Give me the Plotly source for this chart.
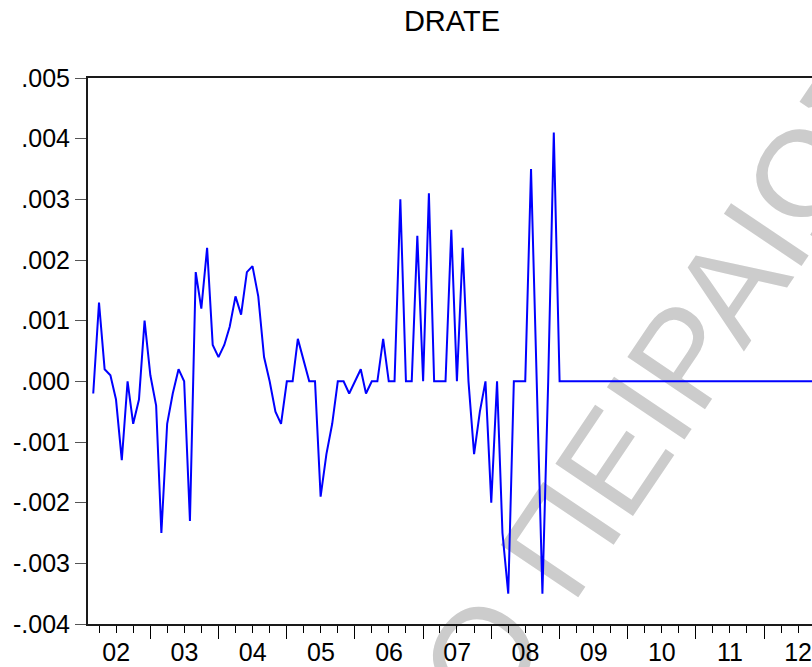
import pandas as pd
import plotly.graph_objects as go

# Monthly first difference of the rate, March 2002 onward
start_month = "2002-03-01"
drate_2002_2005 = [
    -0.0002, 0.0013, 0.0002, 0.0001, -0.0003, -0.0013, 0.0000, -0.0007, -0.0003, 0.0010,
    0.0001, -0.0004, -0.0025, -0.0007, -0.0002, 0.0002, 0.0000, -0.0023, 0.0018, 0.0012,
    0.0022, 0.0006, 0.0004, 0.0006, 0.0009, 0.0014, 0.0011, 0.0018, 0.0019, 0.0014,
    0.0004, 0.0000, -0.0005, -0.0007,
]
drate_2005_2008 = [
    0.0000, 0.0000, 0.0007, 0.00035, 0.0000, 0.0000, -0.0019, -0.0012, -0.0007, 0.0000,
    0.0000, -0.0002, 0.0000, 0.0002, -0.0002, 0.0000, 0.0000, 0.0007, 0.0000, 0.0000,
    0.0030, 0.0000, 0.0000, 0.0024, 0.0000, 0.0031, 0.0000, 0.0000, 0.0000, 0.0025,
    0.0000, 0.0022, 0.0000, -0.0012, -0.0005, 0.0000, -0.0020, 0.0000, -0.0025, -0.0035,
    0.0000, 0.0000, 0.0000, 0.0035, 0.0000, -0.0035, 0.0000, 0.0041,
]
# From January 2009 the series stays flat at zero
drate_2009_2012 = [0.0000] * 48

drate = drate_2002_2005 + drate_2005_2008 + drate_2009_2012
months = pd.date_range(start_month, periods=len(drate), freq="MS")

y_ticks = [-0.004, -0.003, -0.002, -0.001, 0.0, 0.001, 0.002, 0.003, 0.004, 0.005]
y_tick_text = ["-.004", "-.003", "-.002", "-.001", ".000", ".001", ".002", ".003", ".004", ".005"]

FONT = "Liberation Sans, Arial, sans-serif"
AXIS_COLOR = "#1a1a1a"

fig = go.Figure()
fig.add_trace(go.Scatter(
    x=months, y=drate, mode="lines",
    line=dict(color="#0000ff", width=2),
    showlegend=False, hoverinfo="skip",
))

# Faint diagonal watermark behind the series
fig.add_shape(
    type="rect", xref="paper", yref="paper",
    x0=0.40, x1=0.45, y0=-0.275, y1=-0.225,
    line=dict(width=0), fillcolor="rgba(0,0,0,0)", layer="below",
    label=dict(
        text="ΠΑΝΕΠΙΣΤΗΜΙΟ ΠΕΙΡΑΙΩΣ",
        textangle=-56, textposition="middle center",
        font=dict(family=FONT, size=136, color="#cccccc"),
    ),
)

fig.update_layout(
    width=812, height=667,
    margin=dict(l=88, r=0, t=78, b=43),
    paper_bgcolor="white", plot_bgcolor="white",
    font=dict(family=FONT, color="black", size=25),
    title=dict(
        text="DRATE", font=dict(size=29, color="black"),
        x=452 / 812, xref="container", xanchor="center",
        y=1 - 21 / 667, yref="container", yanchor="middle",
    ),
    xaxis=dict(
        type="date", automargin=False,
        range=["2002-02-01", "2012-09-14"],
        showline=True, mirror=True, linecolor=AXIS_COLOR, linewidth=2,
        showgrid=False, zeroline=False,
        ticks="outside", ticklen=13, tickwidth=1, tickcolor="black",
        tick0="2002-01-01", dtick="M12", tickformat="%y",
        ticklabelmode="period", ticklabelstandoff=-8,
        tickfont=dict(size=25),
        minor=dict(ticks="outside", dtick="M3", ticklen=7, tickwidth=1,
                   tickcolor="black", showgrid=False),
    ),
    yaxis=dict(
        automargin=False,
        range=[-0.004, 0.005],
        showline=True, mirror=False, linecolor=AXIS_COLOR, linewidth=2,
        showgrid=False, zeroline=False,
        ticks="outside", ticklen=11, tickwidth=1, tickcolor="#555555",
        tickvals=y_ticks, ticktext=y_tick_text,
        tickfont=dict(size=25),
    ),
)

fig.write_html("out.html")
